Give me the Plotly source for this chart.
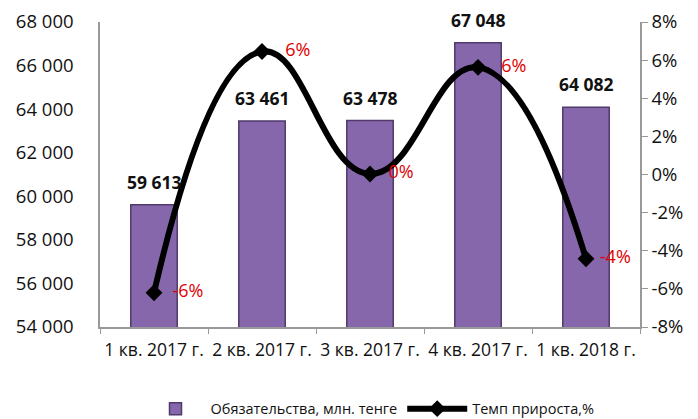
import plotly.graph_objects as go

quarters = ["1 кв. 2017 г.", "2 кв. 2017 г.", "3 кв. 2017 г.", "4 кв. 2017 г.", "1 кв. 2018 г."]
liabilities = [59613, 63461, 63478, 67048, 64082]
growth = [-6.2, 6.45, 0.03, 5.62, -4.42]
growth_labels = ["  -6%", "   6%", "  0%", "   6%", " -4%"]
bar_labels = ["59 613", "63 461", "63 478", "67 048", "64 082"]
pct_ticks = [-8, -6, -4, -2, 0, 2, 4, 6, 8]
pct_text = ["-8%", "-6%", "-4%", "-2%", "0%", "2%", "4%", "6%", "8%"]

font = "Open Sans"

fig = go.Figure()
fig.add_trace(go.Bar(
    x=quarters, y=liabilities, name="Обязательства, млн. тенге",
    marker=dict(color="#8767ab", line=dict(color="#4f3a6b", width=1.5)),
    width=0.43,
))
fig.add_trace(go.Scatter(
    x=quarters, y=growth, name="Темп прироста,%", yaxis="y2",
    mode="lines+markers+text",
    line=dict(color="black", width=6, shape="spline", smoothing=1.3),
    marker=dict(symbol="diamond", size=13, color="black"),
    text=growth_labels, textposition="middle right",
    textfont=dict(family=font, size=18, color="#e00000"),
    cliponaxis=False,
))

# bar value labels sit a bit higher above the bars than plotly's "outside" text
for q, v, lab in zip(quarters, liabilities, bar_labels):
    fig.add_annotation(
        x=q, y=v, text=lab, showarrow=False, yanchor="bottom", yshift=9,
        font=dict(family=font, size=17.5, color="#111111", weight="bold"),
    )

fig.update_layout(
    width=698, height=419,
    margin=dict(l=92, r=66, t=14, b=100, autoexpand=False),
    paper_bgcolor="white", plot_bgcolor="white",
    font=dict(family=font, size=17, color="#111111"),
    separators=", ",
    bargap=0.57,
    xaxis=dict(
        showline=True, linecolor="#999999", linewidth=1.5,
        ticks="outside", tickson="boundaries", ticklen=5, tickcolor="#999999",
        tickfont=dict(size=17.5), tickangle=0, ticklabelstandoff=6,
    ),
    yaxis=dict(
        range=[54000, 68000], dtick=2000, tickformat=",d",
        showline=True, linecolor="#999999", linewidth=1.5,
        showgrid=False, zeroline=False, ticks="", ticklabelstandoff=21,
        tickfont=dict(size=18.5), ticklabeloverflow="allow",
    ),
    yaxis2=dict(
        range=[-8, 8], tickvals=pct_ticks, ticktext=pct_text,
        overlaying="y", side="right",
        showline=True, linecolor="#999999", linewidth=1.5,
        showgrid=False, zeroline=False, ticks="outside", ticklen=6, tickcolor="#999999",
        tickfont=dict(size=18.5), ticklabeloverflow="allow",
    ),
    legend=dict(
        orientation="h", x=0.5, xanchor="center", y=-0.268, yanchor="middle",
        font=dict(size=14.5), itemwidth=60, traceorder="normal",
    ),
)

fig.write_html("out.html")
